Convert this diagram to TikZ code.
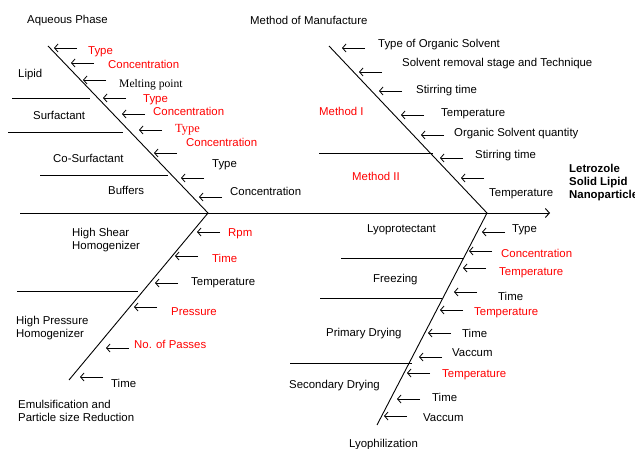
\documentclass[tikz,border=0pt]{standalone}
\usepackage{fontspec}
\setmainfont{Liberation Sans}
\newfontfamily\timesfont{Liberation Serif}
\usetikzlibrary{arrows.meta}
\tikzset{
  bone/.style={line width=0.9pt},
  subbone/.style={line width=0.8pt},
  cause/.style={-{Straight Barb[length=3.5pt,width=8pt]}, line width=0.8pt},
  lbl/.style={anchor=west, inner sep=0pt, align=left, yshift=-1.5pt,
    font=\fontsize{11.4}{13}\selectfont},
}
\begin{document}
\begin{tikzpicture}[x=1pt,y=-1pt]
  \useasboundingbox (0,0) rectangle (635,449);
  % Define parameters
  \def\armLength{23}   % length of the small cause arrows

  % Spine and the four bones
  \coordinate (tail) at (20,213);
  \coordinate (head) at (550,213);
  \coordinate (jl) at (208,213);
  \coordinate (jr) at (487,213);
  \coordinate (ul) at (48,46);
  \coordinate (ur) at (329,46);
  \coordinate (ll) at (69,380);
  \coordinate (lr) at (377,425);
  \draw[bone, -{Straight Barb[length=4pt,width=9pt]}] (tail) -- (head);
  \draw[bone] (ul) -- (jl) -- (ll);
  \draw[bone] (ur) -- (jr) -- (lr);

  % Horizontal separators between the groups
  \foreach \xa/\xb/\y in {12/90/98, 8/123/132, 40/168/175, 319/433/153,
                          17/138/291, 341/463/258, 320/442/298, 290/412/363} {
      \draw[subbone] (\xa,\y) -- (\xb,\y);
  }

  % Small cause arrows pointing at the bones
  \foreach \x/\y in {54/48, 71/63, 83/80, 103/98, 122/114, 139/130, 154/153, 181/178, 199/197,
                     342/48, 359/72, 379/91, 401/115, 421/135, 440/158, 461/178,
                     197/232, 175/256, 155/283, 134/307, 106/348, 80/377,
                     482/232, 469/251, 463/268, 454/292, 440/310, 428/333, 419/357, 407/373, 397/399, 384/416} {
      \draw[cause] (\x+\armLength,\y) -- (\x,\y);
  }

  % Titles of the bones
  \node[lbl] (aqueous) at (27,19) {Aqueous Phase};
  \node[lbl] (method) at (250,19) {Method of Manufacture};
  \node[lbl] (emuls) at (18,409.5) {Emulsification and\\Particle size Reduction};
  \node[lbl] (lyo) at (349,443) {Lyophilization};
  \node[lbl, font=\fontsize{11.4}{13}\selectfont\bfseries] (effect) at (569,181)
      {Letrozole\\Solid Lipid\\Nanoparticles};

  % Groups on each bone
  \node[lbl] (lipid) at (18,73) {Lipid};
  \node[lbl] (surf) at (33,114) {Surfactant};
  \node[lbl] (cosurf) at (53,157) {Co-Surfactant};
  \node[lbl] (buffers) at (108,189) {Buffers};
  \node[lbl, red] (meth1) at (319,110) {Method I};
  \node[lbl, red] (meth2) at (352,175) {Method II};
  \node[lbl] (shear) at (72,238.5) {High Shear\\Homogenizer};
  \node[lbl] (hpress) at (16,326.5) {High Pressure\\Homogenizer};
  \node[lbl] (lyoprot) at (367,228) {Lyoprotectant};
  \node[lbl] (freez) at (373,278) {Freezing};
  \node[lbl] (prim) at (326,332) {Primary Drying};
  \node[lbl] (sec) at (289,384) {Secondary Drying};

  % Causes: Aqueous Phase
  \foreach [count=\i] \x/\y/\c/\t in {88/50/red/Type, 108/63/red/Concentration,
          143/98/red/Type, 153/110/red/Concentration, 186/141/red/Concentration,
          212/163/black/Type, 230/190/black/Concentration} {
      \node[lbl, text=\c] (aq\i) at (\x,\y) {\t};
  }
  \node[lbl, font=\fontsize{11.6}{13}\timesfont] (aqmelt) at (119,83) {Melting point};
  \node[lbl, red, font=\fontsize{12.4}{13}\timesfont] (aqtype) at (175,128) {Type};

  % Causes: Method of Manufacture
  \foreach [count=\i] \x/\y/\t in {378/43/Type of Organic Solvent,
          402/62/Solvent removal stage and Technique, 416/89/Stirring time,
          441/112/Temperature, 454/132/Organic Solvent quantity,
          475/154/Stirring time, 489/192/Temperature} {
      \node[lbl] (mm\i) at (\x,\y) {\t};
  }

  % Causes: Emulsification
  \foreach [count=\i] \x/\y/\c/\t in {228/232/red/Rpm, 212/257/red/Time,
          191/281/black/Temperature, 171/310/red/Pressure,
          134/343/red/No. of Passes, 111/382/black/Time} {
      \node[lbl, text=\c] (em\i) at (\x,\y) {\t};
  }

  % Causes: Lyophilization
  \foreach [count=\i] \x/\y/\c/\t in {512/228/black/Type, 501/252/red/Concentration,
          499/271/red/Temperature, 498/295/black/Time, 474/311/red/Temperature,
          462/332/black/Time, 452/351/black/Vaccum, 442/373/red/Temperature,
          432/396/black/Time, 423/416/black/Vaccum} {
      \node[lbl, text=\c] (ly\i) at (\x,\y) {\t};
  }
\end{tikzpicture}
\end{document}
